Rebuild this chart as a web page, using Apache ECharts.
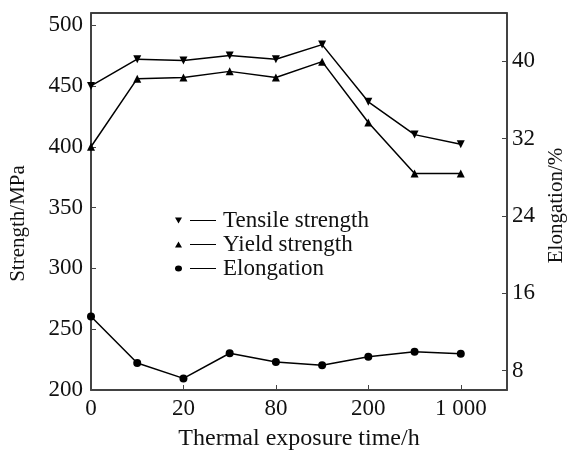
<!DOCTYPE html>
<html>
<head>
<meta charset="utf-8">
<script src="https://cdn.jsdelivr.net/npm/echarts@6/dist/echarts.min.js"></script>
<style>
  html, body { margin: 0; padding: 0; background: #fff; }
  #chart { width: 569px; height: 451px; }
</style>
</head>
<body>
<div id="chart"></div>
<script>
// sample positions along x (evenly spaced), labelled ones below
const samplePos = [0, 1, 2, 3, 4, 5, 6, 7, 8];
const tickPos = [0, 2, 4, 6, 8];
const tickLabels = ['0', '20', '80', '200', '1 000'];

const tensile = [450, 472, 471, 475, 472, 484, 437, 410, 402];
const yieldStr = [400, 456, 457, 462, 457, 470, 420, 378, 378];
const elongation = [13.6, 8.8, 7.2, 9.8, 8.9, 8.55, 9.45, 9.95, 9.75];

const strengthTicks = [200, 250, 300, 350, 400, 450, 500];
const elongTicks = [8, 16, 24, 32, 40];

const FONT = '"Liberation Serif", "Times New Roman", serif';
const INK = '#111';
const AXIS = '#444';

const pair = (vals) => vals.map((v, i) => [samplePos[i], v]);

// legend glyphs: marker, gap, short dash
const ICON_DOWN = 'path://M0 0L7 0L3.5 6Z M15 2.4L41 2.4L41 3.6L15 3.6Z';
const ICON_UP = 'path://M3.5 0L7 6L0 6Z M15 2.4L41 2.4L41 3.6L15 3.6Z';
const ICON_DOT = 'path://M0 3A3.5 3 0 1 0 7 3A3.5 3 0 1 0 0 3Z M15 2.4L41 2.4L41 3.6L15 3.6Z';

const chart = echarts.init(document.getElementById('chart'));

const lineSeries = (name, data, symbol, rotate, yAxisIndex) => ({
  name,
  type: 'line',
  yAxisIndex,
  data: pair(data),
  symbol,
  symbolSize: 8,
  symbolRotate: rotate,
  showAllSymbol: true,
  lineStyle: { color: '#000', width: 1.5 },
  itemStyle: { color: '#000' },
  animation: false,
});

chart.setOption({
  animation: false,
  textStyle: { fontFamily: FONT },
  grid: {
    left: 91, right: 62, top: 13, bottom: 61,
    outerBoundsMode: 'none',
    containLabel: false,
    show: true, borderColor: '#000', borderWidth: 1.5,
  },
  legend: {
    orient: 'vertical',
    left: 175,
    top: 209,
    padding: 0,
    itemWidth: 41,
    itemHeight: 6,
    itemGap: 1,
    textStyle: { fontFamily: FONT, fontSize: 23, color: INK, padding: [0, 0, 0, 2] },
    data: [
      { name: 'Tensile strength', icon: ICON_DOWN },
      { name: 'Yield strength', icon: ICON_UP },
      { name: 'Elongation', icon: ICON_DOT },
    ],
  },
  xAxis: {
    type: 'value',
    min: 0,
    max: 9,
    name: 'Thermal exposure time/h',
    nameLocation: 'middle',
    nameGap: 37,
    nameTextStyle: { fontFamily: FONT, fontSize: 24, color: INK },
    axisLine: { lineStyle: { color: AXIS, width: 1.5 } },
    axisTick: { inside: true, length: 5, customValues: tickPos, lineStyle: { color: AXIS } },
    axisLabel: {
      customValues: tickPos,
      formatter: (v) => tickLabels[tickPos.indexOf(v)],
      fontFamily: FONT, fontSize: 23, color: INK, margin: 7,
    },
    splitLine: { show: false },
  },
  yAxis: [
    {
      type: 'value',
      min: 200,
      max: 510,
      name: 'Strength/MPa',
      nameLocation: 'middle',
      nameGap: 62,
      nameRotate: 90,
      nameTextStyle: { fontFamily: FONT, fontSize: 21, color: INK, padding: [0, 44, 0, 0] },
      axisLine: { show: true, lineStyle: { color: AXIS, width: 1.5 } },
      axisTick: { show: true, inside: true, length: 5, customValues: strengthTicks, lineStyle: { color: AXIS } },
      axisLabel: { customValues: strengthTicks, fontFamily: FONT, fontSize: 23, color: INK, margin: 8 },
      splitLine: { show: false },
    },
    {
      type: 'value',
      min: 6,
      max: 45,
      position: 'right',
      name: 'Elongation/%',
      nameLocation: 'middle',
      nameGap: 35,
      nameRotate: 90,
      nameTextStyle: { fontFamily: FONT, fontSize: 21, color: INK, padding: [0, 8, 0, 0] },
      axisLine: { show: true, lineStyle: { color: AXIS, width: 1.5 } },
      axisTick: { show: true, inside: true, length: 5, customValues: elongTicks, lineStyle: { color: AXIS } },
      axisLabel: { customValues: elongTicks, fontFamily: FONT, fontSize: 23, color: INK, margin: 5 },
      splitLine: { show: false },
    },
  ],
  series: [
    lineSeries('Tensile strength', tensile, 'triangle', 180, 0),
    lineSeries('Yield strength', yieldStr, 'triangle', 0, 0),
    lineSeries('Elongation', elongation, 'circle', 0, 1),
  ],
});
</script>
</body>
</html>
